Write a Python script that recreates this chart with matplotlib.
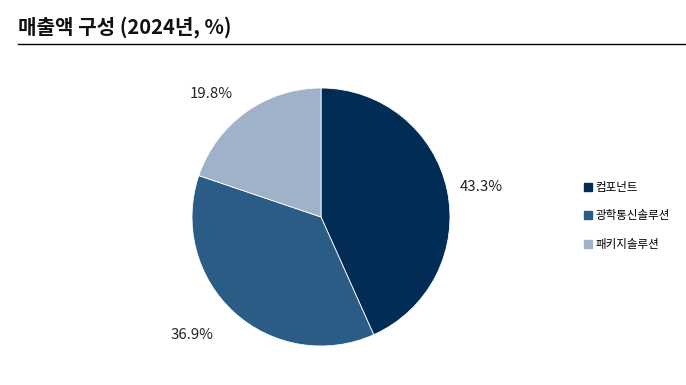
import matplotlib
matplotlib.use("Agg")
import matplotlib.pyplot as plt
from matplotlib.lines import Line2D

plt.rcParams['font.family'] = ['Noto Sans CJK KR', 'DejaVu Sans']

title = "매출액 구성 (2024년, %)"
categories = ["컴포넌트", "광학통신솔루션", "패키지솔루션"]
values = [43.3, 36.9, 19.8]
colors = ["#012C56", "#2A5C86", "#A0B1CA"]
label_dist = [1.10, 1.24, 1.17]

fig = plt.figure(figsize=(6.86, 3.85), dpi=100)
fig.patch.set_facecolor("white")

# Title and underline
fig.text(18/686, 1 - 27/385, title, fontsize=14.5, fontweight='bold',
         va='center', ha='left', color='#111111')
fig.add_artist(Line2D([18/686, 1.0], [1 - 44/385, 1 - 44/385],
                      color='black', lw=1.0, transform=fig.transFigure))

# Pie axes: center (321,217), radius ~129 px
r = 129
cx, cy = 321, 217
ax = fig.add_axes([(cx - r) / 686, 1 - (cy + r) / 385, 2 * r / 686, 2 * r / 385])
wedges, texts = ax.pie(values, colors=colors, startangle=90, counterclock=False,
                       labels=[f"{v:.1f}%" for v in values], labeldistance=1.0,
                       wedgeprops=dict(edgecolor='white', linewidth=0.6),
                       textprops=dict(fontsize=10.8, color='#222222'))
ax.set_xlim(-1, 1)
ax.set_ylim(-1, 1)
ax.set_aspect('equal')
for t, d in zip(texts, label_dist):
    x, y = t.get_position()
    t.set_position((x * d, y * d))
    t.set_va('center')

handles = [Line2D([0], [0], marker='s', linestyle='none', markersize=6,
                  markerfacecolor=c, markeredgecolor=c) for c in colors]
fig.legend(handles, categories, loc='center left',
           bbox_to_anchor=(578/686, 1 - 216/385), frameon=False,
           fontsize=8.3, handletextpad=0.1, labelspacing=1.35, handlelength=1.0,
           borderaxespad=0)

fig.savefig("out.png", dpi=100, facecolor='white')
